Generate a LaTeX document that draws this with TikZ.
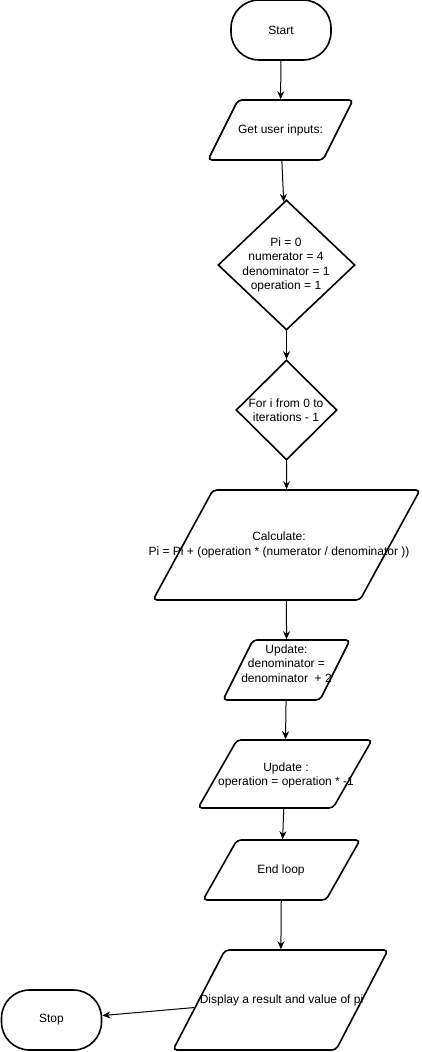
\documentclass[tikz,border=0pt]{standalone}
\usepackage{fontspec}
\setmainfont{Liberation Sans}
\usetikzlibrary{shapes.geometric,arrows.meta}

\begin{document}
\begin{tikzpicture}[x=1pt,y=-1pt,
    font=\fontsize{12}{14.5}\selectfont,
    term/.style={rectangle, draw, line width=1.6pt, rounded corners=28pt, minimum width=100pt, minimum height=60pt},
    io/.style={rectangle, draw, line width=1.6pt, rounded corners=4pt, inner sep=0pt, xslant=#1, transform shape},
    cond/.style={diamond, draw, line width=1.6pt, inner sep=0pt},
    txt/.style={align=center, inner sep=0pt},
    arrow/.style={-{Stealth[length=8pt,width=7pt]}, line width=1pt}
]
\useasboundingbox (0,0) rectangle (422,1052);

% shapes
\node[term] (start) at (281,30) {Start};
\node[io=0.5, minimum width=115pt, minimum height=60pt] (inputs) at (280.5,130) {};
\node[cond, minimum width=137pt, minimum height=130pt] (init) at (286.5,265) {};
\node[cond, minimum width=101pt, minimum height=100pt] (loop) at (286.5,410) {};
\node[io=0.545, minimum width=207pt, minimum height=110pt] (calc) at (286.5,545) {};
\node[io=0.5, minimum width=97pt, minimum height=60pt] (upddenom) at (286.5,670) {};
\node[io=0.573, minimum width=135pt, minimum height=68pt] (updop) at (285,774) {};
\node[io=0.567, minimum width=123pt, minimum height=60pt] (endloop) at (281.5,870) {};
\node[io=0.52, minimum width=163pt, minimum height=100pt] (display) at (280.5,1000) {};
\node[term] (stop) at (51.5,1020) {Stop};

% texts
\node[txt] (inputslbl) at (inputs) {Get user inputs:};
\node[txt] (initlbl) at (286,265) {Pi = 0\\numerator = 4\\denominator = 1\\operation = 1};
\node[txt] (looplbl) at (286,410) {For i from 0 to\\iterations - 1};
\node[txt] (calclbl) at (279,545) {Calculate:\\Pi = Pi + (operation * (numerator / denominator ))};
\node[txt] (upddenomlbl) at (286.5,663.5) {Update:\\denominator =\\denominator\ \ + 2};
\node[txt] (updoplbl) at (286,775.5) {Update :\\operation = operation * -1};
\node[txt] (endlooplbl) at (281,870) {End loop};
\node[txt] (displaylbl) at (281.5,1000) {Display a result and value of pi};

% connectors
\draw[arrow] (start) -- (inputs);
\draw[arrow] (inputs) -- (init);
\draw[arrow] (init) -- (loop);
\draw[arrow] (loop) -- (calc);
\draw[arrow] (calc) -- (upddenom);
\draw[arrow] (upddenom) -- (updop);
\draw[arrow] (updop) -- (endloop);
\draw[arrow] (endloop) -- (display);
\draw[arrow] (display) -- (stop);
\end{tikzpicture}
\end{document}
